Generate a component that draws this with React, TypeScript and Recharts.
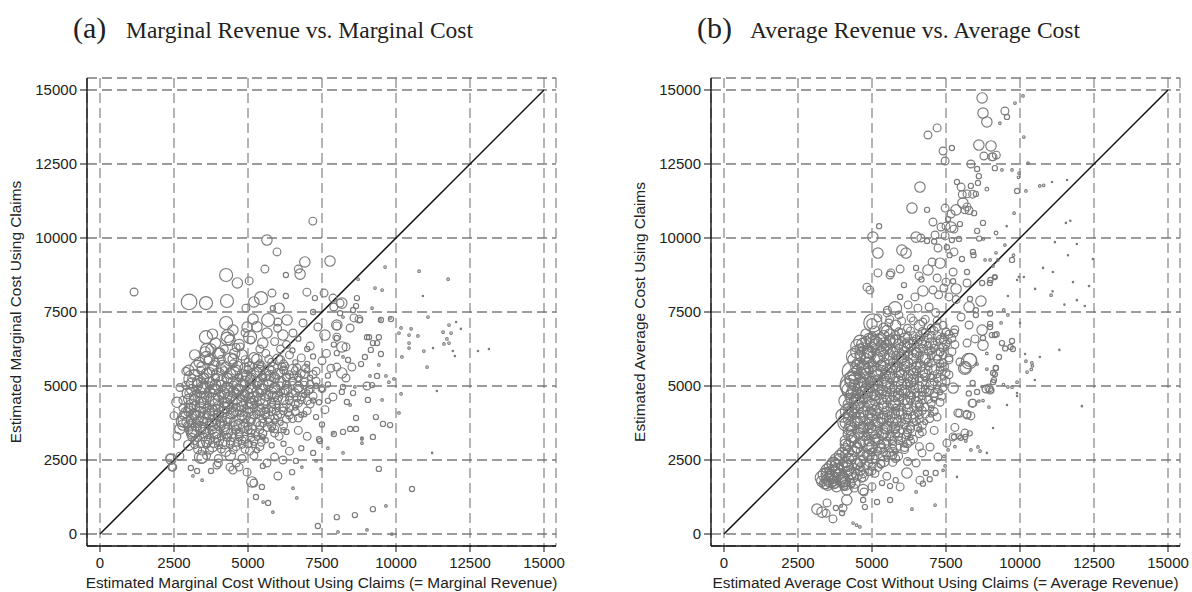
import React from 'react';
import { ScatterChart, Scatter, XAxis, YAxis, CartesianGrid, ReferenceLine } from 'recharts';

// ---------- tick values (both axes, both panels) ----------
const axisTicks = [0, 2500, 5000, 7500, 10000, 12500, 15000];

// ---------- titles / labels ----------
const panelTags = ['(a)', '(b)'];
const panelTitles = ['Marginal Revenue vs. Marginal Cost', 'Average Revenue vs. Average Cost'];
const xLabels = [
  'Estimated Marginal Cost Without Using Claims (= Marginal Revenue)',
  'Estimated Average Cost Without Using Claims (= Average Revenue)',
];
const yLabels = ['Estimated Marginal Cost Using Claims', 'Estimated Average Cost Using Claims'];

// ---------- panel (a): [x, y, weight] ----------
const marginalOuter: [number, number, number][] = [
  [1150, 8175, 9], [7190, 10570, 9], [5640, 9930, 16], [5980, 9530, 9], [6920, 9190, 16], [7770, 9220, 16],
  [6700, 8950, 9], [5570, 8950, 9], [6280, 8750, 4], [4260, 8750, 25], [4640, 8480, 16], [5040, 8550, 9],
  [6760, 8780, 16], [3010, 7840, 36], [3580, 7800, 25], [4290, 7870, 25], [5200, 7840, 16], [5440, 7970, 25],
  [5810, 8140, 9], [6280, 8040, 4], [6990, 8170, 9], [7260, 7970, 4], [7570, 8140, 9], [7870, 7970, 9],
  [8110, 7800, 9], [8680, 7970, 4], [9630, 9020, 1], [8720, 8610, 1], [9290, 8310, 1], [9530, 8240, 1],
  [4930, 7630, 9], [6050, 7630, 16], [5840, 7630, 4], [7200, 7500, 4], [8110, 7460, 4], [4260, 7130, 25],
  [4490, 6890, 16], [5170, 7260, 16], [4970, 6990, 16], [5680, 7230, 25], [6320, 7230, 16], [6010, 7160, 9],
  [6860, 7130, 9], [7360, 6990, 9], [8000, 7030, 9], [8450, 6960, 9], [8780, 7230, 4], [9460, 7230, 1],
  [9800, 7300, 1], [3580, 6650, 25], [4320, 6690, 25], [3610, 6220, 25], [4050, 6110, 16], [4730, 6320, 9],
  [5070, 6650, 25], [5640, 6790, 16], [6180, 6720, 16], [6520, 6790, 9], [7600, 6720, 16], [8000, 6620, 4],
  [9020, 6650, 4], [9360, 6450, 4],
  [3140, 5240, 49], [3380, 5000, 36], [3040, 4260, 16], [2800, 3680, 16], [2360, 2570, 9], [2430, 2260, 9],
  [3450, 2570, 16], [3550, 6150, 16], [3650, 5880, 9], [4390, 6550, 16], [2900, 3850, 36], [3200, 3500, 25],
  [2600, 3300, 9],
  [10780, 8880, 1], [11760, 8610, 1], [10910, 8040, 0.3], [8170, 7800, 16], [8650, 7700, 4], [9190, 7630, 1],
  [7900, 7670, 9], [8750, 7260, 9], [8580, 7300, 9], [9490, 7230, 4], [9830, 7260, 4], [8210, 7330, 1],
  [11080, 7330, 1], [10170, 6960, 1], [10510, 6930, 1], [10100, 6790, 1], [10740, 6690, 1], [10440, 6720, 1],
  [11790, 7060, 1], [12030, 7160, 0.3], [12190, 6930, 0.3], [11590, 6820, 1], [11860, 6790, 1], [11720, 6590, 1],
  [11620, 6420, 1], [11790, 6450, 1], [10440, 6450, 1], [10440, 6280, 1], [10940, 6180, 1], [11250, 6280, 0.3],
  [12770, 6180, 0.3], [13140, 6250, 0.3], [11920, 6180, 0.3], [11990, 6010, 0.3], [10200, 5980, 1],
  [11050, 5640, 1], [9930, 5240, 1], [11380, 4830, 0.3], [10170, 4730, 1], [10100, 4090, 1], [11220, 2740, 0.3],
  [9090, 6650, 4], [9420, 6650, 4], [9220, 6450, 4], [9150, 6220, 4], [8950, 5980, 4], [9490, 6080, 4],
  [8820, 5740, 4], [9420, 5710, 1], [9120, 5340, 1], [9360, 5340, 4], [9660, 5340, 1], [9760, 5130, 1],
  [9020, 5000, 9], [9190, 5030, 4], [8610, 4970, 1], [8550, 4760, 4], [9050, 4530, 4], [9530, 4530, 1],
  [8340, 4460, 4], [8450, 4360, 1], [8650, 3920, 4], [9320, 3950, 4], [9560, 3720, 4], [9800, 3680, 4],
  [8650, 3550, 4], [8450, 3550, 4], [9220, 3280, 4], [8850, 3210, 1], [8850, 3070, 1], [8210, 3450, 4],
  [7900, 3380, 4], [8210, 2740, 1], [9420, 2200, 4], [10540, 1520, 4], [9220, 840, 4], [9660, 950, 1],
  [8610, 640, 4], [8000, 570, 4], [8040, 70, 1], [9020, 140, 1], [9860, 0, 1], [8210, 5980, 1],
  [8000, 6110, 4], [8380, 5880, 4], [8510, 5640, 9], [8170, 5440, 16], [8310, 5270, 9], [8210, 4970, 4],
  [8170, 4800, 4], [7870, 4630, 9], [8000, 5640, 9], [8000, 7060, 16], [8000, 6650, 9], [8170, 6320, 16],
  [8310, 6320, 9], [8550, 7570, 4],
  [2400, 2530, 16], [2460, 2260, 9], [2700, 2630, 9], [3070, 2230, 4], [3140, 1960, 1], [3450, 1820, 1],
  [3410, 2600, 25], [3280, 2130, 4], [3750, 2130, 4], [3950, 2330, 9], [4390, 2260, 9], [4490, 2160, 9],
  [4700, 2260, 9], [4970, 2090, 9], [5130, 1760, 16], [5200, 1720, 9], [5470, 1590, 4], [5270, 1250, 4],
  [5510, 1080, 1], [5680, 1050, 4], [5840, 740, 1], [6010, 1960, 9], [5640, 2400, 9], [6180, 2500, 9],
  [6490, 2090, 4], [6620, 2470, 4], [6820, 2260, 1], [7300, 2470, 1], [7470, 2200, 1], [6520, 1550, 1],
  [6650, 1220, 1], [7360, 270, 4], [7200, 2740, 4], [7430, 3140, 4], [7700, 2900, 1], [7870, 3410, 1],
  [8850, 3240, 1],
  [7600, 4200, 9], [7700, 5050, 4], [7800, 5600, 9], [7650, 6100, 9], [7900, 6400, 4], [7500, 3700, 4],
  [7700, 4500, 4], [7400, 3200, 4], [7000, 3300, 9], [6800, 2900, 4], [6400, 2800, 9], [5900, 2600, 9],
  [5500, 2300, 4],
];

const marginalCore: [number, number, number][] = [
  [3900, 6450, 16], [4300, 6600, 25], [4700, 6400, 16], [5100, 6550, 9], [5500, 6450, 16], [5900, 6500, 9],
  [6300, 6400, 9], [6700, 6600, 4], [7100, 6350, 9],
  [3200, 6050, 16], [3600, 5950, 25], [4000, 6100, 16], [4400, 5900, 25], [4800, 6050, 16], [5200, 5950, 16],
  [5600, 6100, 9], [6000, 5900, 16], [6400, 6050, 9], [6800, 5950, 9], [7200, 6000, 4], [7500, 5850, 9],
  [2900, 5500, 9], [3300, 5600, 36], [3700, 5450, 16], [4100, 5550, 16], [4500, 5450, 25], [4900, 5600, 16],
  [5300, 5450, 16], [5700, 5550, 16], [6100, 5450, 9], [6500, 5550, 16], [6900, 5400, 9], [7300, 5500, 9],
  [7700, 5350, 4],
  [2700, 4950, 9], [3100, 5100, 16], [3500, 4950, 25], [3900, 5050, 16], [4300, 4950, 16], [4700, 5050, 25],
  [5100, 4950, 16], [5500, 5050, 16], [5900, 4950, 16], [6300, 5050, 9], [6700, 4950, 16], [7100, 5050, 9],
  [7500, 4900, 4],
  [2600, 4450, 16], [3000, 4550, 16], [3400, 4450, 16], [3800, 4550, 25], [4200, 4450, 16], [4600, 4550, 16],
  [5000, 4450, 25], [5400, 4550, 16], [5800, 4450, 9], [6200, 4550, 16], [6600, 4400, 9], [7000, 4500, 9],
  [7400, 4450, 4],
  [2500, 4000, 9], [2900, 4100, 16], [3300, 3950, 25], [3700, 4050, 16], [4100, 3950, 16], [4500, 4100, 16],
  [4900, 3950, 16], [5300, 4050, 9], [5700, 3950, 16], [6100, 4050, 9], [6500, 3900, 9], [6900, 4050, 4],
  [7300, 3950, 4],
  [2700, 3550, 16], [3100, 3450, 16], [3500, 3550, 16], [3900, 3450, 25], [4300, 3550, 16], [4700, 3450, 9],
  [5100, 3550, 16], [5500, 3400, 9], [5900, 3550, 9], [6300, 3450, 4], [6700, 3500, 9],
  [3000, 3000, 16], [3400, 3050, 9], [3800, 2950, 16], [4200, 3050, 16], [4600, 2950, 9], [5000, 3050, 9],
  [5400, 2950, 9], [5800, 3000, 4], [6200, 3050, 4],
  [3600, 2650, 9], [4000, 2550, 9], [4400, 2650, 16], [4800, 2550, 9], [5200, 2650, 9],
  [3500, 5250, 16], [3900, 5300, 9], [4300, 5250, 16], [4700, 5300, 9], [5100, 5200, 16], [5500, 5300, 9],
  [5900, 5250, 9], [6300, 5300, 9], [6700, 5250, 4],
  [3300, 4750, 9], [3700, 4800, 16], [4100, 4700, 9], [4500, 4800, 16], [4900, 4750, 9], [5300, 4800, 16],
  [5700, 4700, 9], [6100, 4800, 9], [6500, 4750, 9], [6900, 4700, 4],
  [2800, 4250, 9], [3200, 4300, 16], [3600, 4250, 9], [4000, 4300, 16], [4400, 4200, 9], [4800, 4300, 16],
  [5200, 4250, 9], [5600, 4200, 9], [6000, 4300, 4], [6400, 4250, 9],
  [3100, 3750, 9], [3500, 3800, 9], [3900, 3750, 16], [4300, 3800, 9], [4700, 3700, 16], [5100, 3800, 9],
  [5500, 3750, 9], [5900, 3800, 4],
  [3300, 3250, 9], [3700, 3200, 16], [4100, 3300, 9], [4500, 3250, 9], [4900, 3200, 9], [5300, 3250, 4],
  [3900, 5800, 9], [4500, 5750, 9], [5000, 5800, 9], [5400, 5750, 9], [5800, 5800, 9], [6200, 5750, 9],
  [6600, 5800, 4], [7000, 5750, 4],
  [4200, 6250, 9], [4600, 6300, 9], [5400, 6250, 9], [6100, 6250, 9], [6500, 6200, 4], [7000, 6250, 4],
];

const marginalCoreFill: [number, number, number][] = [
  [3450, 5650, 16], [3850, 5680, 16], [4250, 5620, 16], [4650, 5660, 16], [5050, 5640, 16], [5450, 5690, 9],
  [5850, 5630, 16], [6250, 5670, 9], [6650, 5620, 9],
  [3200, 5380, 16], [3600, 5420, 16], [4000, 5390, 25], [4400, 5410, 16], [4800, 5380, 16], [5200, 5430, 16],
  [5600, 5390, 16], [6000, 5410, 16], [6400, 5380, 9], [6800, 5420, 9], [7200, 5390, 9],
  [3300, 5150, 16], [3700, 5130, 16], [4100, 5170, 16], [4500, 5140, 16], [4900, 5160, 16], [5300, 5130, 16],
  [5700, 5170, 16], [6100, 5140, 16], [6500, 5160, 9], [6900, 5130, 9], [7300, 5160, 9],
  [3100, 4880, 16], [3500, 4920, 16], [3900, 4890, 16], [4300, 4910, 25], [4700, 4880, 16], [5100, 4920, 16],
  [5500, 4890, 16], [5900, 4910, 16], [6300, 4880, 16], [6700, 4920, 9], [7100, 4890, 9], [7500, 4910, 9],
  [3200, 4650, 16], [3600, 4630, 16], [4000, 4670, 16], [4400, 4640, 16], [4800, 4660, 16], [5200, 4630, 16],
  [5600, 4670, 16], [6000, 4640, 16], [6400, 4660, 9], [6800, 4630, 9], [7200, 4660, 9],
  [3100, 4380, 16], [3500, 4420, 16], [3900, 4390, 16], [4300, 4410, 16], [4700, 4380, 25], [5100, 4420, 16],
  [5500, 4390, 16], [5900, 4410, 16], [6300, 4380, 9], [6700, 4420, 9], [7100, 4390, 9],
  [3000, 4150, 16], [3400, 4130, 16], [3800, 4170, 16], [4200, 4140, 16], [4600, 4160, 16], [5000, 4130, 16],
  [5400, 4170, 16], [5800, 4140, 9], [6200, 4160, 9], [6600, 4130, 9], [7000, 4160, 9],
  [3100, 3880, 16], [3500, 3920, 16], [3900, 3890, 16], [4300, 3910, 16], [4700, 3880, 16], [5100, 3920, 16],
  [5500, 3890, 9], [5900, 3910, 9], [6300, 3880, 9], [6700, 3920, 9],
  [3000, 3650, 16], [3400, 3630, 16], [3800, 3670, 16], [4200, 3640, 16], [4600, 3660, 16], [5000, 3630, 9],
  [5400, 3670, 9], [5800, 3640, 9], [6200, 3660, 9],
  [3100, 3380, 16], [3500, 3420, 16], [3900, 3390, 16], [4300, 3410, 16], [4700, 3380, 9], [5100, 3420, 9],
  [5500, 3390, 9], [5900, 3410, 9],
  [3200, 3150, 9], [3600, 3130, 16], [4000, 3170, 16], [4400, 3140, 9], [4800, 3160, 9], [5200, 3130, 9],
  [5600, 3170, 4],
  [3300, 2850, 9], [3700, 2830, 9], [4100, 2870, 9], [4500, 2840, 9], [4900, 2860, 9], [5300, 2830, 4],
  [3350, 5800, 16], [3750, 6250, 16], [4150, 5650, 25], [4550, 6100, 16], [4950, 5350, 16], [5350, 5650, 16],
  [5750, 5350, 16], [6150, 5650, 9], [6550, 5350, 9], [6950, 5600, 9],
  [2950, 4750, 16], [3450, 4600, 25], [3850, 4900, 16], [4250, 4650, 25], [4650, 4900, 16], [5050, 4600, 16],
  [5450, 4900, 16], [5850, 4650, 16], [6250, 4850, 9], [6650, 4600, 9], [7050, 4850, 9],
  [2750, 3800, 16], [3150, 4050, 16], [3550, 4100, 16], [3950, 4150, 25], [4350, 4350, 16], [4750, 4150, 16],
  [5150, 4400, 16], [5550, 4100, 16], [5950, 4150, 9], [6350, 4100, 9],
  [3250, 3650, 16], [3650, 3400, 16], [4050, 3650, 16], [4450, 3400, 16], [4850, 3600, 16], [5250, 3400, 9],
  [5650, 3600, 9], [6050, 3300, 9],
  [3450, 2800, 9], [3850, 3100, 16], [4250, 2800, 16], [4650, 3100, 9], [5050, 2800, 9], [5450, 3100, 9],
  [4000, 2400, 9], [4600, 2400, 9], [3800, 6750, 16], [4900, 6800, 9], [5300, 7000, 16], [6000, 6950, 9],
];

const marginalDense: [number, number, number][] = [
  [3700, 5900, 16], [4100, 5900, 9], [4500, 5910, 16], [4900, 5890, 9], [5300, 5900, 16], [5700, 5910, 9],
  [6100, 5890, 9],
  [3000, 5530, 16], [3400, 5530, 9], [3800, 5540, 16], [4200, 5520, 9], [4600, 5530, 16], [5000, 5540, 9],
  [5400, 5520, 16], [5800, 5530, 9], [6200, 5540, 9], [6600, 5520, 9], [7000, 5530, 4],
  [3100, 5270, 9], [3500, 5280, 16], [3900, 5260, 9], [4300, 5270, 16], [4700, 5280, 9], [5100, 5260, 16],
  [5500, 5270, 9], [5900, 5280, 16], [6300, 5260, 9], [6700, 5270, 9], [7100, 5280, 4],
  [2900, 5020, 9], [3300, 5030, 16], [3700, 5010, 9], [4100, 5020, 16], [4500, 5030, 9], [4900, 5010, 16],
  [5300, 5020, 9], [5700, 5030, 16], [6100, 5010, 9], [6500, 5020, 9], [6900, 5030, 9], [7300, 5010, 4],
  [3000, 4770, 9], [3400, 4780, 16], [3800, 4760, 9], [4200, 4770, 16], [4600, 4780, 9], [5000, 4760, 16],
  [5400, 4770, 9], [5800, 4780, 16], [6200, 4760, 9], [6600, 4770, 9], [7000, 4780, 4],
  [2800, 4520, 9], [3200, 4530, 16], [3600, 4510, 9], [4000, 4520, 16], [4400, 4530, 9], [4800, 4510, 16],
  [5200, 4520, 9], [5600, 4530, 16], [6000, 4510, 9], [6400, 4520, 9], [6800, 4530, 9], [7200, 4510, 4],
  [3000, 4270, 9], [3400, 4280, 16], [3800, 4260, 9], [4200, 4270, 16], [4600, 4280, 9], [5000, 4260, 16],
  [5400, 4270, 9], [5800, 4280, 9], [6200, 4260, 9], [6600, 4270, 4],
  [2800, 4020, 9], [3200, 4030, 16], [3600, 4010, 9], [4000, 4020, 16], [4400, 4030, 9], [4800, 4010, 16],
  [5200, 4020, 9], [5600, 4030, 9], [6000, 4010, 9], [6400, 4020, 9], [6800, 4030, 4],
  [2900, 3770, 9], [3300, 3780, 16], [3700, 3760, 9], [4100, 3770, 16], [4500, 3780, 9], [4900, 3760, 9],
  [5300, 3770, 9], [5700, 3780, 9], [6100, 3760, 4],
  [3000, 3520, 9], [3400, 3530, 16], [3800, 3510, 9], [4200, 3520, 16], [4600, 3530, 9], [5000, 3510, 9],
  [5400, 3520, 9], [5800, 3530, 4], [6200, 3510, 4],
  [3100, 3270, 9], [3500, 3280, 9], [3900, 3260, 16], [4300, 3270, 9], [4700, 3280, 9], [5100, 3260, 9],
  [5500, 3270, 4],
  [3200, 3020, 9], [3600, 3030, 9], [4000, 3010, 9], [4400, 3020, 9], [4800, 3030, 9], [5200, 3010, 4],
];

// ---------- panel (b): [x, y, weight] ----------
const averageOuter: [number, number, number][] = [
  [8720, 14730, 16], [8750, 14220, 16], [8880, 13920, 16], [7200, 13720, 9], [6890, 13480, 9], [8610, 13140, 16],
  [9020, 13110, 16], [8780, 12770, 9], [9050, 12740, 9], [9200, 12800, 9], [7400, 12940, 9], [7700, 13040, 4],
  [7470, 12600, 9], [8340, 12500, 9], [9150, 12360, 4], [8550, 12330, 4], [8610, 12090, 4], [6620, 11720, 16],
  [8010, 11720, 9], [7870, 11890, 4], [8340, 11760, 4], [8580, 11860, 4], [8880, 11650, 2], [8210, 11490, 9],
  [8050, 11470, 9], [8400, 11480, 9], [8510, 11490, 4], [8070, 11180, 16], [8210, 11050, 9], [6350, 11010, 16],
  [6860, 10950, 4], [7470, 11010, 9], [7840, 10950, 16], [7670, 10810, 9], [8140, 10950, 9], [8280, 10930, 9],
  [8450, 10840, 4], [7570, 10640, 4], [7060, 10540, 9], [7330, 10370, 9], [7500, 10400, 9], [7670, 10370, 16],
  [7770, 10300, 9], [7970, 10470, 4], [8750, 10510, 4], [5240, 10400, 4], [5030, 10030, 16], [6490, 10030, 16],
  [6650, 10000, 9], [7130, 10100, 9], [6860, 9900, 4], [7100, 9880, 4], [7470, 10070, 9], [7700, 9930, 4],
  [7940, 9970, 4], [8550, 10240, 4], [9190, 10170, 2], [8620, 9980, 4], [8760, 9970, 1], [5200, 9490, 16],
  [6010, 9590, 16], [6150, 9490, 16], [7230, 9660, 9], [7530, 9690, 4], [7770, 9530, 9], [7620, 9420, 4],
  [8410, 9530, 4], [8430, 9420, 4], [8820, 9260, 1], [8990, 9260, 1], [9190, 9500, 1], [5200, 8820, 9],
  [5640, 8820, 9], [5950, 8950, 9], [5610, 8750, 9], [6490, 8990, 4], [6890, 8920, 16], [7030, 9190, 9],
  [7300, 9150, 16], [8040, 9290, 4], [7740, 8850, 9], [8210, 8850, 4], [6590, 8720, 9], [6670, 8600, 4],
  [7200, 8650, 9], [7500, 8510, 9], [7740, 8540, 4], [8210, 8480, 9], [8720, 8480, 4], [9150, 8680, 2],
  [6080, 8410, 4], [4830, 8340, 9], [4930, 8240, 9], [5950, 8010, 4], [6450, 8010, 9], [6720, 8210, 16],
  [7060, 8240, 9], [7250, 8080, 9], [7430, 8310, 9], [7840, 8280, 16], [7600, 8010, 9], [7840, 7920, 9],
  [8310, 7940, 4], [8680, 7870, 16], [5780, 7630, 25], [5520, 7560, 9], [6220, 7740, 9], [6550, 7630, 9],
  [6930, 7670, 9], [7150, 7480, 9], [8280, 7670, 16], [8510, 7560, 4], [8990, 7450, 4],
  [8510, 7400, 4], [5030, 7130, 49], [5510, 7470, 9], [5910, 7400, 9], [5570, 7130, 9], [6320, 7300, 9],
  [6720, 7160, 9], [7200, 6990, 9], [7500, 6820, 9], [7770, 6790, 9], [8010, 7330, 9], [8280, 7060, 9],
  [8720, 6890, 16], [8990, 6990, 4], [9150, 6720, 4], [5610, 6550, 16], [5200, 6490, 36], [8210, 6450, 9],
  [8480, 6590, 9], [8750, 6380, 16], [8880, 6100, 1], [4760, 6050, 49], [4730, 5610, 25], [7970, 5810, 9],
  [8280, 5840, 36], [8140, 5610, 25], [8880, 5570, 1], [9190, 5610, 4], [9150, 5400, 4], [4360, 5030, 100],
  [4830, 4760, 49], [4490, 4460, 36], [4150, 3780, 49], [7740, 4930, 16], [8410, 4420, 9], [8850, 4900, 9],
  [8990, 4860, 9], [9090, 5130, 4], [8210, 4020, 9], [7900, 4090, 9], [7740, 3280, 9], [8140, 3410, 9],
  [8000, 3250, 4], [8300, 3400, 4], [7530, 3070, 9], [6960, 2940, 9], [6690, 2740, 9], [7230, 2600, 9],
  [6490, 2400, 9], [6180, 2060, 16], [6820, 2060, 4], [7150, 2060, 4], [6620, 1820, 9], [6720, 1700, 4],
  [6950, 1850, 4], [6490, 1420, 1], [7130, 980, 1], [6350, 840, 1], [5950, 1590, 9], [5610, 1620, 4],
  [5340, 1720, 4], [5800, 1820, 4], [5610, 1150, 4], [5170, 1080, 4], [4700, 1150, 4], [4760, 910, 4],
  [4730, 1420, 9], [4150, 1150, 16], [4020, 880, 9], [3990, 710, 4], [3680, 510, 9], [3480, 1050, 9],
  [3140, 840, 16], [3310, 740, 16], [3450, 700, 9], [3780, 880, 4], [3960, 950, 1], [4360, 370, 1],
  [4590, 240, 1], [4480, 300, 1], [3680, 2060, 36], [3600, 1850, 36], [3920, 1930, 36], [4150, 1490, 16],
  [4050, 1600, 9], [4420, 1720, 16], [4700, 1500, 16], [5000, 1600, 9],
  [9490, 14290, 9], [9560, 14090, 4], [9320, 13880, 1], [9830, 14560, 1], [10100, 14800, 1], [10130, 13410, 1],
  [9090, 12740, 9], [10270, 12530, 1], [9390, 12300, 1], [9730, 12300, 1], [9970, 12190, 1], [9950, 12050, 1],
  [9900, 11590, 4], [10200, 11590, 1], [10670, 11760, 1], [10800, 11780, 1], [11080, 11890, 0.3],
  [11590, 11960, 0.3], [9800, 10840, 1], [9550, 10400, 0.3], [11550, 10510, 0.3], [11700, 10580, 0.3],
  [11180, 9860, 0.3], [11920, 9800, 0.3], [11620, 9420, 0.3], [12460, 9290, 0.3], [9490, 9760, 1],
  [9730, 9260, 4], [9780, 9420, 1], [9250, 9260, 1], [9090, 9050, 1], [9150, 8680, 4], [9000, 8580, 4],
  [8980, 8480, 4], [9590, 8040, 0.3], [10130, 8680, 0.3], [10780, 8990, 0.3], [11110, 8850, 0.3],
  [10510, 8280, 0.3], [11050, 8070, 1], [11100, 8200, 0.3], [11790, 8510, 0.3], [11920, 7900, 0.3],
  [12190, 7700, 0.3], [11500, 7750, 0.3], [12330, 8380, 0.3], [9900, 8580, 0.3], [9960, 8680, 0.3],
  [9590, 7400, 1], [9450, 7570, 1], [9360, 7130, 1], [10000, 7130, 0.3], [8990, 7100, 4], [9050, 6720, 4],
  [9210, 6750, 4], [8750, 6620, 4], [9390, 6450, 4], [9500, 6270, 4], [9730, 6520, 4], [9680, 6320, 4],
  [9760, 6250, 4], [9290, 5980, 4], [10170, 6080, 0.3], [10200, 5840, 1], [10400, 5780, 1], [10420, 5680, 1],
  [10380, 5560, 1], [10670, 5980, 0.3], [11330, 6220, 0.3], [10240, 5470, 1], [10500, 5200, 0.3],
  [8310, 5880, 25], [8150, 5610, 16], [8550, 5740, 1], [9090, 5440, 4], [9180, 5610, 4], [9120, 5200, 4],
  [9440, 5050, 1], [9590, 4970, 1], [9730, 4960, 1], [9900, 5130, 1], [8950, 4930, 9], [9020, 4850, 4],
  [8720, 4980, 1], [8550, 4800, 4], [8270, 4750, 4], [8400, 5100, 4], [8610, 4490, 1], [8750, 4510, 1],
  [8950, 4290, 1], [9560, 4360, 0.3], [8380, 4420, 9], [8210, 4050, 9], [7960, 4080, 9], [8340, 3990, 9],
  [7800, 3600, 9], [7770, 3280, 4], [7930, 3300, 4], [8150, 3280, 4], [8170, 3140, 1], [9090, 3580, 0.3],
  [8580, 2940, 1], [8340, 2840, 1], [8650, 2800, 1], [8880, 2740, 0.3], [7800, 2950, 1], [7570, 2840, 1],
  [7430, 2620, 1], [7470, 2300, 1], [7870, 1930, 0.3], [7400, 2150, 1], [12090, 4320, 0.3], [9900, 4760, 0.3],
  [9900, 4660, 0.3],
];

const averageCore: [number, number, number][] = [
  [5000, 7100, 16], [5400, 6950, 16], [5800, 7050, 16], [6200, 6950, 9], [6600, 7050, 16], [7000, 6950, 9],
  [7400, 7050, 9], [7800, 6900, 9],
  [4600, 6500, 25], [5000, 6550, 25], [5400, 6450, 16], [5800, 6550, 16], [6200, 6450, 16], [6600, 6550, 9],
  [7000, 6450, 16], [7400, 6550, 9], [7800, 6400, 9],
  [4400, 6000, 36], [4800, 6050, 25], [5200, 5950, 16], [5600, 6050, 16], [6000, 5950, 16], [6400, 6050, 16],
  [6800, 5950, 16], [7200, 6050, 16], [7600, 5950, 9],
  [4300, 5500, 49], [4700, 5550, 25], [5100, 5450, 25], [5500, 5550, 16], [5900, 5450, 16], [6300, 5550, 16],
  [6700, 5450, 16], [7100, 5550, 16], [7500, 5450, 9],
  [4200, 5000, 36], [4600, 5050, 25], [5000, 4950, 16], [5400, 5050, 25], [5800, 4950, 16], [6200, 5050, 16],
  [6600, 4950, 16], [7000, 5050, 16], [7400, 4950, 9],
  [4100, 4500, 25], [4500, 4550, 25], [4900, 4450, 16], [5300, 4550, 16], [5700, 4450, 25], [6100, 4550, 16],
  [6500, 4450, 16], [6900, 4550, 9], [7300, 4450, 9],
  [4000, 4000, 25], [4400, 4050, 16], [4800, 3950, 25], [5200, 4050, 16], [5600, 3950, 16], [6000, 4050, 16],
  [6400, 3950, 16], [6800, 4050, 9], [7200, 3950, 9],
  [4300, 3500, 16], [4700, 3550, 16], [5100, 3450, 25], [5500, 3550, 16], [5900, 3450, 16], [6300, 3550, 9],
  [6700, 3450, 9], [7100, 3500, 9],
  [4200, 3000, 16], [4600, 3050, 16], [5000, 2950, 16], [5400, 3050, 16], [5800, 2950, 16], [6200, 3050, 9],
  [6600, 2950, 9],
  [3800, 2500, 25], [4200, 2550, 16], [4600, 2450, 16], [5000, 2550, 16], [5400, 2450, 16], [5800, 2550, 9],
  [6200, 2450, 9],
  [3400, 2000, 25], [3700, 2050, 25], [4000, 1950, 16], [4300, 2050, 16], [4700, 1950, 16], [5100, 2050, 9],
  [5500, 1950, 9],
  [3500, 1650, 16], [3800, 1600, 16], [4100, 1650, 16], [4400, 1550, 9],
  [4800, 6750, 16], [5600, 6750, 16], [6000, 6800, 9], [6400, 6700, 9], [6800, 6800, 9], [7200, 6700, 9],
  [7600, 6750, 9],
  [4600, 6250, 16], [5000, 6300, 16], [5400, 6250, 16], [5800, 6200, 9], [6200, 6300, 16], [6600, 6250, 9],
  [7000, 6200, 9], [7400, 6300, 9],
  [4500, 5750, 16], [4900, 5800, 16], [5300, 5700, 16], [5700, 5800, 9], [6100, 5750, 16], [6500, 5700, 9],
  [6900, 5800, 9], [7300, 5750, 9],
  [4400, 5250, 16], [4800, 5300, 16], [5200, 5200, 16], [5600, 5300, 16], [6000, 5250, 9], [6400, 5200, 16],
  [6800, 5300, 9], [7200, 5250, 9],
  [4300, 4750, 16], [4700, 4800, 16], [5100, 4700, 16], [5500, 4800, 9], [5900, 4750, 16], [6300, 4700, 9],
  [6700, 4800, 9], [7100, 4750, 9],
  [4200, 4250, 16], [4600, 4300, 9], [5000, 4200, 16], [5400, 4300, 16], [5800, 4250, 9], [6200, 4200, 16],
  [6600, 4300, 9], [7000, 4250, 4],
  [4100, 3750, 16], [4500, 3800, 16], [4900, 3700, 16], [5300, 3800, 9], [5700, 3750, 16], [6100, 3700, 9],
  [6500, 3800, 9],
  [4400, 3250, 16], [4800, 3300, 9], [5200, 3200, 16], [5600, 3300, 9], [6000, 3250, 9], [6400, 3200, 9],
  [4000, 2750, 16], [4400, 2800, 16], [4800, 2700, 9], [5200, 2800, 9], [5600, 2750, 9],
  [3600, 2250, 25], [4000, 2300, 16], [4400, 2200, 16], [4800, 2300, 9], [5200, 2250, 9],
  [3600, 1800, 25], [3950, 1800, 16], [4250, 1850, 9],
];

const averageCoreFill: [number, number, number][] = [
  [5100, 6850, 16], [5500, 6870, 16], [5900, 6830, 9], [6300, 6860, 9], [6700, 6840, 9], [7100, 6870, 9],
  [7500, 6830, 9],
  [4900, 6600, 16], [5300, 6620, 16], [5700, 6580, 16], [6100, 6610, 16], [6500, 6590, 9], [6900, 6620, 9],
  [7300, 6580, 9], [7700, 6610, 9],
  [4700, 6400, 25], [5100, 6420, 16], [5500, 6380, 16], [5900, 6410, 16], [6300, 6390, 16], [6700, 6420, 9],
  [7100, 6380, 9], [7500, 6410, 9],
  [4500, 6150, 25], [4900, 6130, 16], [5300, 6170, 16], [5700, 6140, 16], [6100, 6160, 16], [6500, 6130, 16],
  [6900, 6170, 9], [7300, 6140, 9], [7700, 6160, 9],
  [4400, 5880, 25], [4800, 5920, 16], [5200, 5890, 16], [5600, 5910, 16], [6000, 5880, 16], [6400, 5920, 16],
  [6800, 5890, 16], [7200, 5910, 9], [7600, 5880, 9],
  [4500, 5650, 25], [4900, 5630, 16], [5300, 5670, 16], [5700, 5640, 16], [6100, 5660, 16], [6500, 5630, 16],
  [6900, 5670, 9], [7300, 5640, 9],
  [4400, 5380, 25], [4800, 5420, 16], [5200, 5390, 16], [5600, 5410, 16], [6000, 5380, 16], [6400, 5420, 16],
  [6800, 5390, 16], [7200, 5410, 9], [7600, 5380, 9],
  [4300, 5150, 25], [4700, 5130, 16], [5100, 5170, 16], [5500, 5140, 16], [5900, 5160, 16], [6300, 5130, 16],
  [6700, 5170, 16], [7100, 5140, 9], [7500, 5160, 9],
  [4400, 4880, 25], [4800, 4920, 16], [5200, 4890, 16], [5600, 4910, 16], [6000, 4880, 16], [6400, 4920, 16],
  [6800, 4890, 9], [7200, 4910, 9],
  [4300, 4650, 25], [4700, 4630, 16], [5100, 4670, 16], [5500, 4640, 16], [5900, 4660, 16], [6300, 4630, 16],
  [6700, 4670, 9], [7100, 4640, 9],
  [4200, 4380, 16], [4600, 4420, 16], [5000, 4390, 16], [5400, 4410, 16], [5800, 4380, 16], [6200, 4420, 16],
  [6600, 4390, 9], [7000, 4410, 9],
  [4300, 4150, 16], [4700, 4130, 16], [5100, 4170, 16], [5500, 4140, 16], [5900, 4160, 16], [6300, 4130, 9],
  [6700, 4170, 9], [7100, 4140, 9],
  [4200, 3880, 16], [4600, 3920, 16], [5000, 3890, 16], [5400, 3910, 16], [5800, 3880, 16], [6200, 3920, 9],
  [6600, 3890, 9],
  [4300, 3650, 16], [4700, 3630, 16], [5100, 3670, 16], [5500, 3640, 16], [5900, 3660, 9], [6300, 3630, 9],
  [6700, 3670, 9],
  [4200, 3380, 16], [4600, 3420, 16], [5000, 3390, 16], [5400, 3410, 16], [5800, 3380, 9], [6200, 3420, 9],
  [6600, 3390, 9],
  [4300, 3150, 16], [4700, 3130, 16], [5100, 3170, 16], [5500, 3140, 9], [5900, 3160, 9], [6300, 3130, 9],
  [4100, 2880, 16], [4500, 2920, 16], [4900, 2890, 16], [5300, 2910, 9], [5700, 2880, 9], [6100, 2920, 9],
  [3900, 2650, 16], [4300, 2630, 16], [4700, 2670, 16], [5100, 2640, 9], [5500, 2660, 9], [5900, 2630, 9],
  [3700, 2380, 25], [4100, 2420, 16], [4500, 2390, 16], [4900, 2410, 9], [5300, 2380, 9], [5700, 2420, 9],
  [3500, 2150, 25], [3800, 2170, 25], [4200, 2140, 16], [4600, 2160, 16], [5000, 2130, 9],
  [3300, 1900, 25], [3650, 1920, 25], [4000, 1890, 16], [4350, 1910, 16], [4650, 1880, 9],
  [3450, 1700, 16], [3750, 1730, 16], [4050, 1690, 16], [4300, 1720, 9],
  [4500, 6350, 25], [4900, 6150, 25], [5300, 6350, 16], [5700, 6150, 16], [6100, 6350, 16], [6500, 6150, 9],
  [6900, 6350, 9], [7300, 6150, 9],
  [4350, 5250, 36], [4650, 5350, 25], [5050, 5650, 16], [5450, 5350, 16], [5850, 5650, 16], [6250, 5350, 16],
  [6650, 5650, 16], [7050, 5350, 9], [7450, 5650, 9],
  [4250, 4850, 36], [4550, 4650, 25], [4950, 5150, 16], [5350, 4850, 16], [5750, 4650, 16], [6150, 4850, 16],
  [6550, 4650, 16], [6950, 4850, 9], [7350, 4650, 9],
  [4150, 4150, 25], [4550, 3900, 25], [4950, 4100, 16], [5350, 3900, 16], [5750, 4100, 16], [6150, 3900, 16],
  [6550, 4100, 9], [6950, 3900, 9],
  [4250, 3650, 16], [4550, 3400, 16], [4950, 3600, 16], [5350, 3350, 16], [5750, 3600, 16], [6150, 3350, 9],
  [6550, 3600, 9],
  [4100, 3150, 16], [4500, 2900, 16], [4900, 3150, 16], [5300, 2900, 16], [5700, 3150, 9], [6100, 2850, 9],
  [3700, 2350, 25], [4100, 2650, 16], [4500, 2350, 16], [4900, 2650, 16], [5300, 2350, 9], [5700, 2650, 9],
  [3500, 1900, 25], [3850, 2150, 25], [4150, 2100, 16], [4500, 2000, 16], [4900, 2100, 9],
  [3400, 1700, 16], [3700, 1700, 16], [4000, 1750, 16], [4300, 1700, 9],
  [5200, 7300, 9], [5600, 7250, 9], [6000, 7200, 9], [6400, 7200, 9], [6800, 7250, 9], [7200, 7200, 9],
];

const averageDense: [number, number, number][] = [
  [5000, 6700, 9], [5400, 6700, 16], [5800, 6710, 9], [6200, 6690, 9], [6600, 6700, 9], [7000, 6710, 9],
  [7400, 6690, 4],
  [4800, 6500, 16], [5200, 6510, 9], [5600, 6490, 16], [6000, 6500, 9], [6400, 6510, 9], [6800, 6490, 9],
  [7200, 6500, 9], [7600, 6510, 4],
  [4700, 6280, 16], [5100, 6290, 9], [5500, 6270, 16], [5900, 6280, 9], [6300, 6290, 9], [6700, 6270, 9],
  [7100, 6280, 9], [7500, 6290, 4],
  [4600, 6030, 16], [5000, 6040, 9], [5400, 6020, 16], [5800, 6030, 9], [6200, 6040, 16], [6600, 6020, 9],
  [7000, 6030, 9], [7400, 6040, 9],
  [4600, 5780, 16], [5000, 5790, 9], [5400, 5770, 16], [5800, 5780, 9], [6200, 5790, 16], [6600, 5770, 9],
  [7000, 5780, 9], [7400, 5790, 9],
  [4500, 5530, 16], [4900, 5540, 9], [5300, 5520, 16], [5700, 5530, 9], [6100, 5540, 16], [6500, 5520, 9],
  [6900, 5530, 9], [7300, 5540, 9],
  [4600, 5280, 16], [5000, 5290, 9], [5400, 5270, 16], [5800, 5280, 9], [6200, 5290, 16], [6600, 5270, 9],
  [7000, 5280, 9], [7400, 5290, 4],
  [4400, 5030, 16], [4800, 5040, 9], [5200, 5020, 16], [5600, 5030, 9], [6000, 5040, 16], [6400, 5020, 9],
  [6800, 5030, 9], [7200, 5040, 9],
  [4500, 4780, 16], [4900, 4790, 9], [5300, 4770, 16], [5700, 4780, 9], [6100, 4790, 16], [6500, 4770, 9],
  [6900, 4780, 9], [7300, 4790, 4],
  [4300, 4530, 16], [4700, 4540, 9], [5100, 4520, 16], [5500, 4530, 9], [5900, 4540, 16], [6300, 4520, 9],
  [6700, 4530, 9], [7100, 4540, 4],
  [4400, 4280, 16], [4800, 4290, 9], [5200, 4270, 16], [5600, 4280, 9], [6000, 4290, 9], [6400, 4270, 9],
  [6800, 4280, 9],
  [4200, 4030, 16], [4600, 4040, 9], [5000, 4020, 16], [5400, 4030, 9], [5800, 4040, 9], [6200, 4020, 9],
  [6600, 4030, 9], [7000, 4040, 4],
  [4400, 3780, 16], [4800, 3790, 9], [5200, 3770, 16], [5600, 3780, 9], [6000, 3790, 9], [6400, 3770, 9],
  [6800, 3780, 4],
  [4200, 3530, 16], [4600, 3540, 9], [5000, 3520, 16], [5400, 3530, 9], [5800, 3540, 9], [6200, 3520, 9],
  [6600, 3530, 4],
  [4300, 3280, 16], [4700, 3290, 9], [5100, 3270, 16], [5500, 3280, 9], [5900, 3290, 9], [6300, 3270, 4],
  [4100, 3030, 16], [4500, 3040, 9], [4900, 3020, 16], [5300, 3030, 9], [5700, 3040, 9], [6100, 3020, 4],
  [4200, 2780, 16], [4600, 2790, 9], [5000, 2770, 9], [5400, 2780, 9], [5800, 2790, 4],
  [3900, 2530, 16], [4300, 2540, 16], [4700, 2520, 9], [5100, 2530, 9], [5500, 2540, 4],
  [3800, 2280, 25], [4200, 2290, 16], [4600, 2270, 9], [5000, 2280, 9],
  [3500, 2030, 25], [3900, 2040, 16], [4300, 2020, 16], [4700, 2030, 9],
  [3300, 1780, 16], [3700, 1790, 16], [4100, 1770, 16],
];

const toRows = (pts: [number, number, number][]) => pts.map(([x, y, w]) => ({ x, y, w }));
const marginalData = toRows([...marginalCore, ...marginalCoreFill, ...marginalDense, ...marginalOuter]);
const averageData = toRows([...averageCore, ...averageCoreFill, ...averageDense, ...averageOuter]);
const panelData = [marginalData, averageData];

const SANS = '"Liberation Sans", Arial, Helvetica, sans-serif';
const SERIF = '"Liberation Serif", "Times New Roman", serif';

// hollow marker; radius grows with the observation weight
function Ring(props: any) {
  const { cx, cy, payload } = props;
  if (cx == null || cy == null) return null;
  const r = Math.max(1.3 * Math.sqrt(payload?.w ?? 1), 0.6);
  return <circle cx={cx} cy={cy} r={r} fill="none" stroke="#7a7a7a" strokeWidth={1.15} />;
}

function Panel({ idx }: { idx: number }) {
  const tickStyle = { fontSize: 15, fill: '#222', fontFamily: SANS };
  const labelStyle = { fontSize: 15.4, fill: '#222', fontFamily: SANS };
  return (
    <ScatterChart width={580} height={592} margin={{ top: 78, right: 24, bottom: 0, left: 0 }}>
      <CartesianGrid horizontal vertical={false} stroke="#3a3a3a" strokeDasharray="10 5" strokeWidth={1} />
      <CartesianGrid horizontal={false} vertical stroke="#6a6a6a" strokeDasharray="10 5" strokeWidth={1} />
      <XAxis
        type="number"
        dataKey="x"
        domain={[-439, 15405]}
        ticks={axisTicks}
        interval={0}
        allowDataOverflow
        height={46}
        tickSize={6}
        tickMargin={5}
        axisLine={{ stroke: '#111', strokeWidth: 1.4 }}
        tickLine={{ stroke: '#111' }}
        tick={tickStyle}
        label={{ value: xLabels[idx], position: 'insideBottom', offset: 4, style: labelStyle }}
      />
      <YAxis
        type="number"
        dataKey="y"
        domain={[-405, 15405]}
        ticks={axisTicks}
        interval={0}
        allowDataOverflow
        width={87}
        tickSize={7}
        tickMargin={3}
        axisLine={{ stroke: '#111', strokeWidth: 1.4 }}
        tickLine={{ stroke: '#111' }}
        tick={tickStyle}
        label={{ value: yLabels[idx], angle: -90, position: 'insideLeft', offset: 16, style: { ...labelStyle, textAnchor: 'middle' } }}
      />
      <Scatter data={panelData[idx]} shape={Ring} isAnimationActive={false} />
      <ReferenceLine segment={[{ x: 0, y: 0 }, { x: 15000, y: 15000 }]} stroke="#111" strokeWidth={1.5} />
    </ScatterChart>
  );
}

export default function App() {
  return (
    <div style={{ position: 'absolute', left: 0, top: 0, width: 1192, height: 592, background: '#fff', overflow: 'hidden' }}>
      <svg width={1192} height={60} style={{ position: 'absolute', left: 0, top: 0 }}>
        {[0, 1].map((i) => (
          <g key={i} transform={`translate(${i * 624},0)`}>
            <text x={73} y={38} fontFamily={SERIF} fontSize={30} fill="#222">{panelTags[i]}</text>
            <text x={126} y={38} fontFamily={SERIF} fontSize={23.5} fill="#222">{panelTitles[i]}</text>
          </g>
        ))}
      </svg>
      <div style={{ position: 'absolute', left: 0, top: 0 }}>
        <Panel idx={0} />
      </div>
      <div style={{ position: 'absolute', left: 624, top: 0 }}>
        <Panel idx={1} />
      </div>
    </div>
  );
}
